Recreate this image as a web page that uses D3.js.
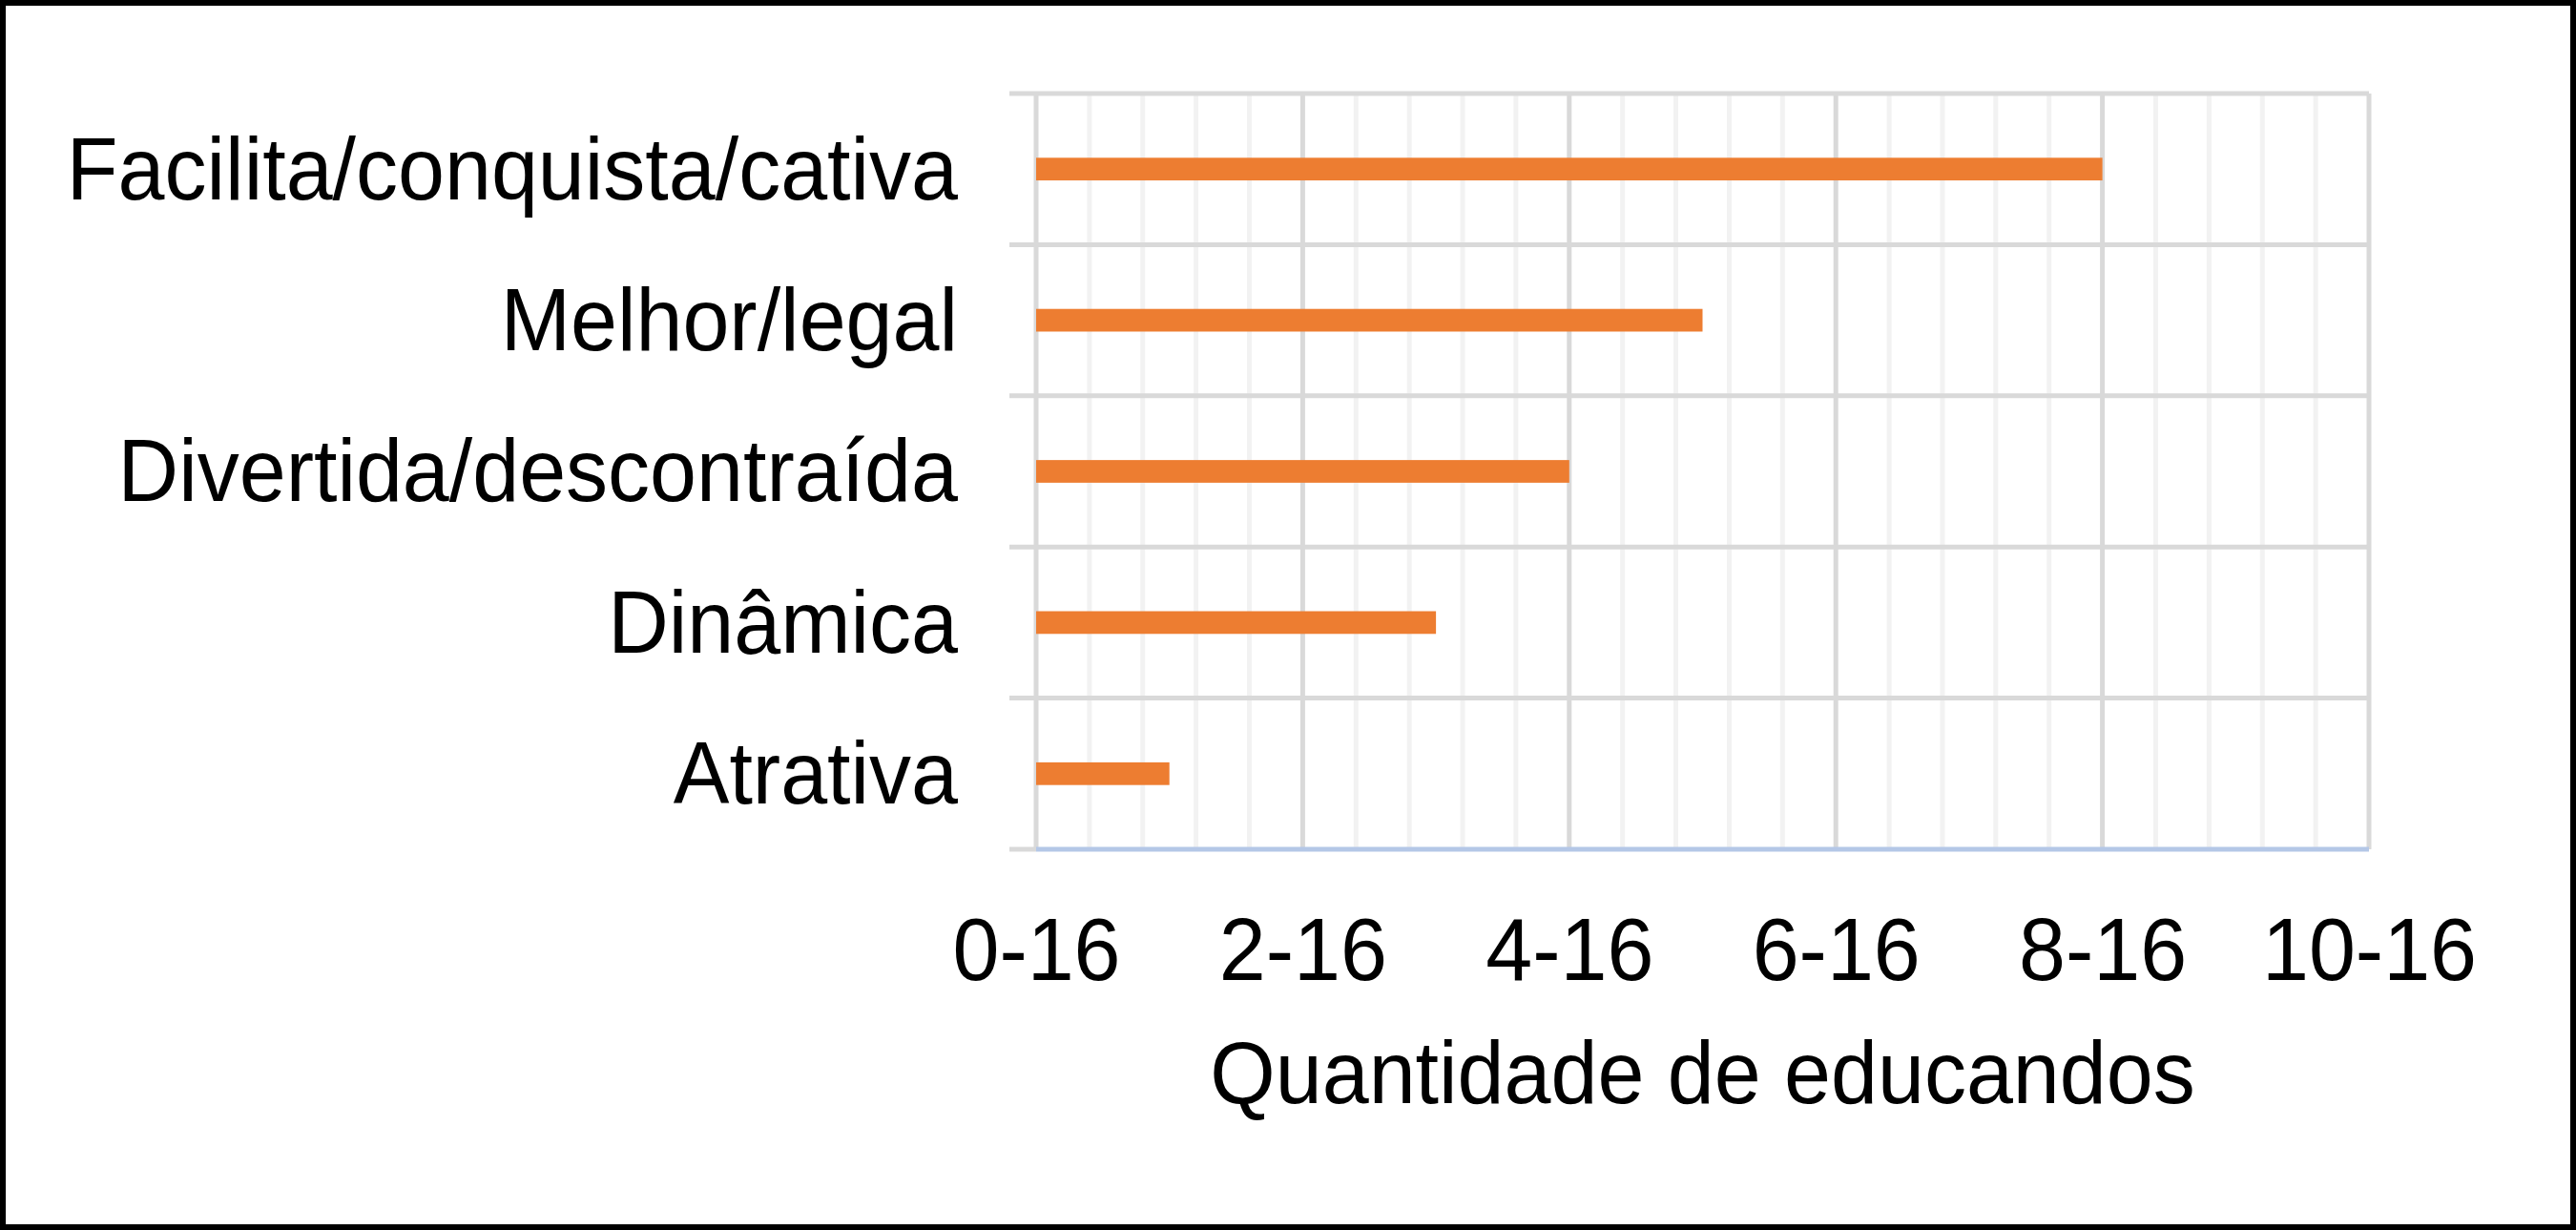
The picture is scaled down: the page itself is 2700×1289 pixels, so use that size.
<!DOCTYPE html>
<meta charset="utf-8">
<style>
  body { margin: 0; background: #fff; }
  text { font-family: "Liberation Sans", Arial, sans-serif; fill: #000; }
</style>
<body>
<div id="my_dataviz"></div>

<!-- Load d3.js -->
<script src="https://d3js.org/d3.v7.min.js"></script>

<script>

// data (top to bottom)
var categories = ["Facilita/conquista/cativa", "Melhor/legal", "Divertida/descontraída", "Dinâmica", "Atrativa"];
var quantities = [8, 5, 4, 3, 1];
var xTicks = [0, 2, 4, 6, 8, 10];
var xTickLabels = ["0-16", "2-16", "4-16", "6-16", "8-16", "10-16"];
var xTitle = "Quantidade de educandos";
var minorStep = 0.4;

var data = categories.map(function(c, i) { return {cat: c, value: quantities[i]}; });

// dimensions
var W = 2700, H = 1289;
var plot = {left: 1086, right: 2483, top: 98, bottom: 890};
var stretch = "scale(1,1.05)";   // text in the picture is a bit taller than wide

var svg = d3.select("#my_dataviz")
  .append("svg")
    .attr("width", W)
    .attr("height", H);

svg.append("rect")
  .attr("width", W).attr("height", H)
  .attr("fill", "#fff");

// outer frame
svg.append("rect")
  .attr("x", 3).attr("y", 3)
  .attr("width", W - 6).attr("height", H - 6)
  .attr("fill", "none")
  .attr("stroke", "#000")
  .attr("stroke-width", 6);

// scales
var x = d3.scaleLinear()
  .domain([0, 10])
  .range([plot.left, plot.right]);

var y = d3.scaleBand()
  .domain(categories)
  .range([plot.top, plot.bottom])
  .paddingInner(0.85)
  .paddingOuter(0.425);

var yGrid = d3.scaleBand()
  .domain(categories)
  .range([plot.top, plot.bottom]);

// minor vertical gridlines
var minorVals = d3.range(0, 10 + 1e-9, minorStep).filter(function(v) {
  return xTicks.indexOf(Math.round(v * 10) / 10) < 0;
});
svg.selectAll("minorline")
  .data(minorVals)
  .enter()
  .append("line")
    .attr("x1", function(d) { return x(d); })
    .attr("x2", function(d) { return x(d); })
    .attr("y1", plot.top)
    .attr("y2", plot.bottom)
    .attr("stroke", "#f2f2f2")
    .attr("stroke-width", 5);

// major vertical gridlines
svg.selectAll("majorline")
  .data(xTicks)
  .enter()
  .append("line")
    .attr("x1", function(d) { return x(d); })
    .attr("x2", function(d) { return x(d); })
    .attr("y1", plot.top)
    .attr("y2", plot.bottom)
    .attr("stroke", "#d9d9d9")
    .attr("stroke-width", 5);

// horizontal lines between categories (with tick stubs on the left)
var bounds = categories.map(function(c) { return yGrid(c); });
svg.selectAll("hline")
  .data(bounds)
  .enter()
  .append("line")
    .attr("x1", plot.left - 28)
    .attr("x2", plot.right)
    .attr("y1", function(d) { return d; })
    .attr("y2", function(d) { return d; })
    .attr("stroke", "#d9d9d9")
    .attr("stroke-width", 5);

// bottom tick stub + axis line
svg.append("line")
  .attr("x1", plot.left - 28).attr("x2", plot.left)
  .attr("y1", plot.bottom).attr("y2", plot.bottom)
  .attr("stroke", "#d9d9d9")
  .attr("stroke-width", 5);
svg.append("line")
  .attr("x1", plot.left).attr("x2", plot.right)
  .attr("y1", plot.bottom).attr("y2", plot.bottom)
  .attr("stroke", "#b4c7e7")
  .attr("stroke-width", 5);

// bars
svg.selectAll("mybar")
  .data(data)
  .enter()
  .append("rect")
    .attr("x", x(0))
    .attr("y", function(d) { return y(d.cat); })
    .attr("width", function(d) { return x(d.value) - x(0); })
    .attr("height", y.bandwidth())
    .attr("fill", "#ed7d31");

// Y axis labels
var yAxis = svg.append("g")
  .attr("transform", "translate(" + plot.left + ",0)")
  .call(d3.axisLeft(yGrid).tickSize(0).tickPadding(82));
yAxis.select(".domain").remove();
yAxis.selectAll("text")
  .attr("font-size", "88px")
  .attr("dy", "0.34em")
  .attr("transform", stretch)
  .style("font-family", "'Liberation Sans', Arial, sans-serif")
  .attr("fill", "#000");

// X axis labels
var xAxis = svg.append("g")
  .attr("transform", "translate(0," + plot.bottom + ")")
  .call(d3.axisBottom(x)
    .tickValues(xTicks)
    .tickFormat(function(d, i) { return xTickLabels[i]; })
    .tickSize(0)
    .tickPadding(68));
xAxis.select(".domain").remove();
xAxis.selectAll("text")
  .attr("font-size", "88px")
  .attr("transform", stretch)
  .style("font-family", "'Liberation Sans', Arial, sans-serif")
  .attr("fill", "#000");

// X axis title
svg.append("text")
  .attr("transform", "translate(" + (plot.left + plot.right) / 2 + ",1156) " + stretch)
  .attr("text-anchor", "middle")
  .attr("font-size", "88px")
  .text(xTitle);

</script>
</body>
